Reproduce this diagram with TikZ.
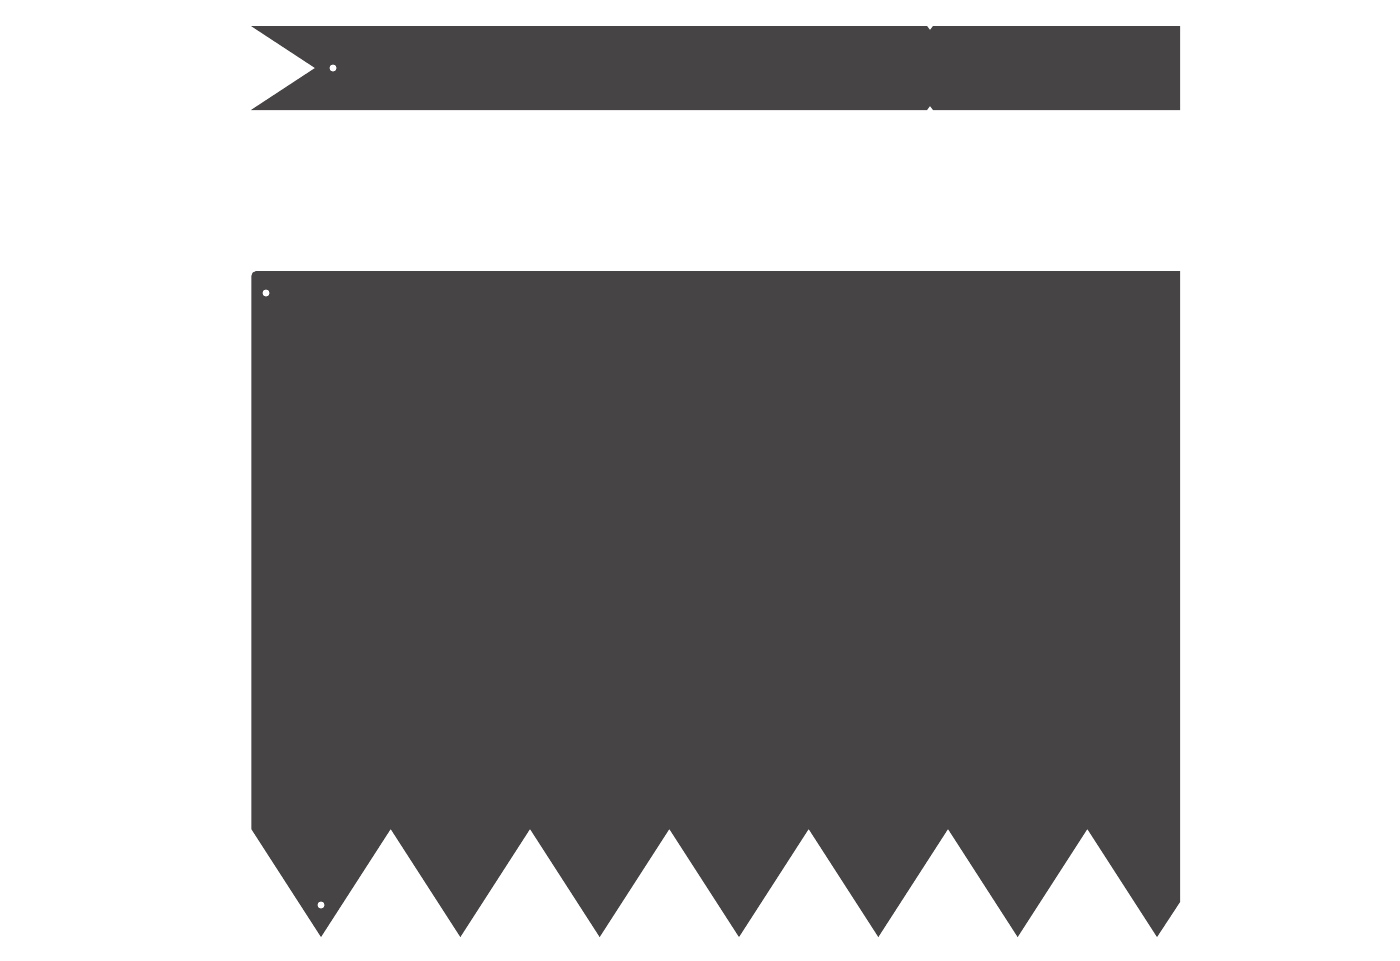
\documentclass[tikz,border=0pt]{standalone}
\usepackage{tikz}
\definecolor{platefill}{RGB}{70,68,69}
\begin{document}
\begin{tikzpicture}[x=0.01cm,y=-0.01cm,
    plate/.style={fill=platefill},
    hole/.style={fill=white}]
    \useasboundingbox (0,0) rectangle (1400,960);

    % top strip, swallowtail at the left
    \fill[plate] (251,26) -- (315,68) -- (251,110) -- (927,110) -- (930,106) -- (933,110)
        -- (1180,110) -- (1180,26) -- (933,26) -- (930,30) -- (927,26) -- cycle;
    \fill[hole] (333,68) circle (3.5);

    % large panel with pointed bottom edge
    \fill[plate] (700,271) [rounded corners=0.05cm] -- (251.3,271) -- (251.3,500) [sharp corners]
        -- (251.3,829)
        \foreach \i in {0,...,5} { -- ({321+139.33*\i},937) -- ({390.67+139.33*\i},829) }
        -- (1157,937) -- (1180,902) -- (1180,271) -- cycle;
    \fill[hole] (266,293) circle (3.5);
    \fill[hole] (321,905) circle (3.5);
\end{tikzpicture}
\end{document}
